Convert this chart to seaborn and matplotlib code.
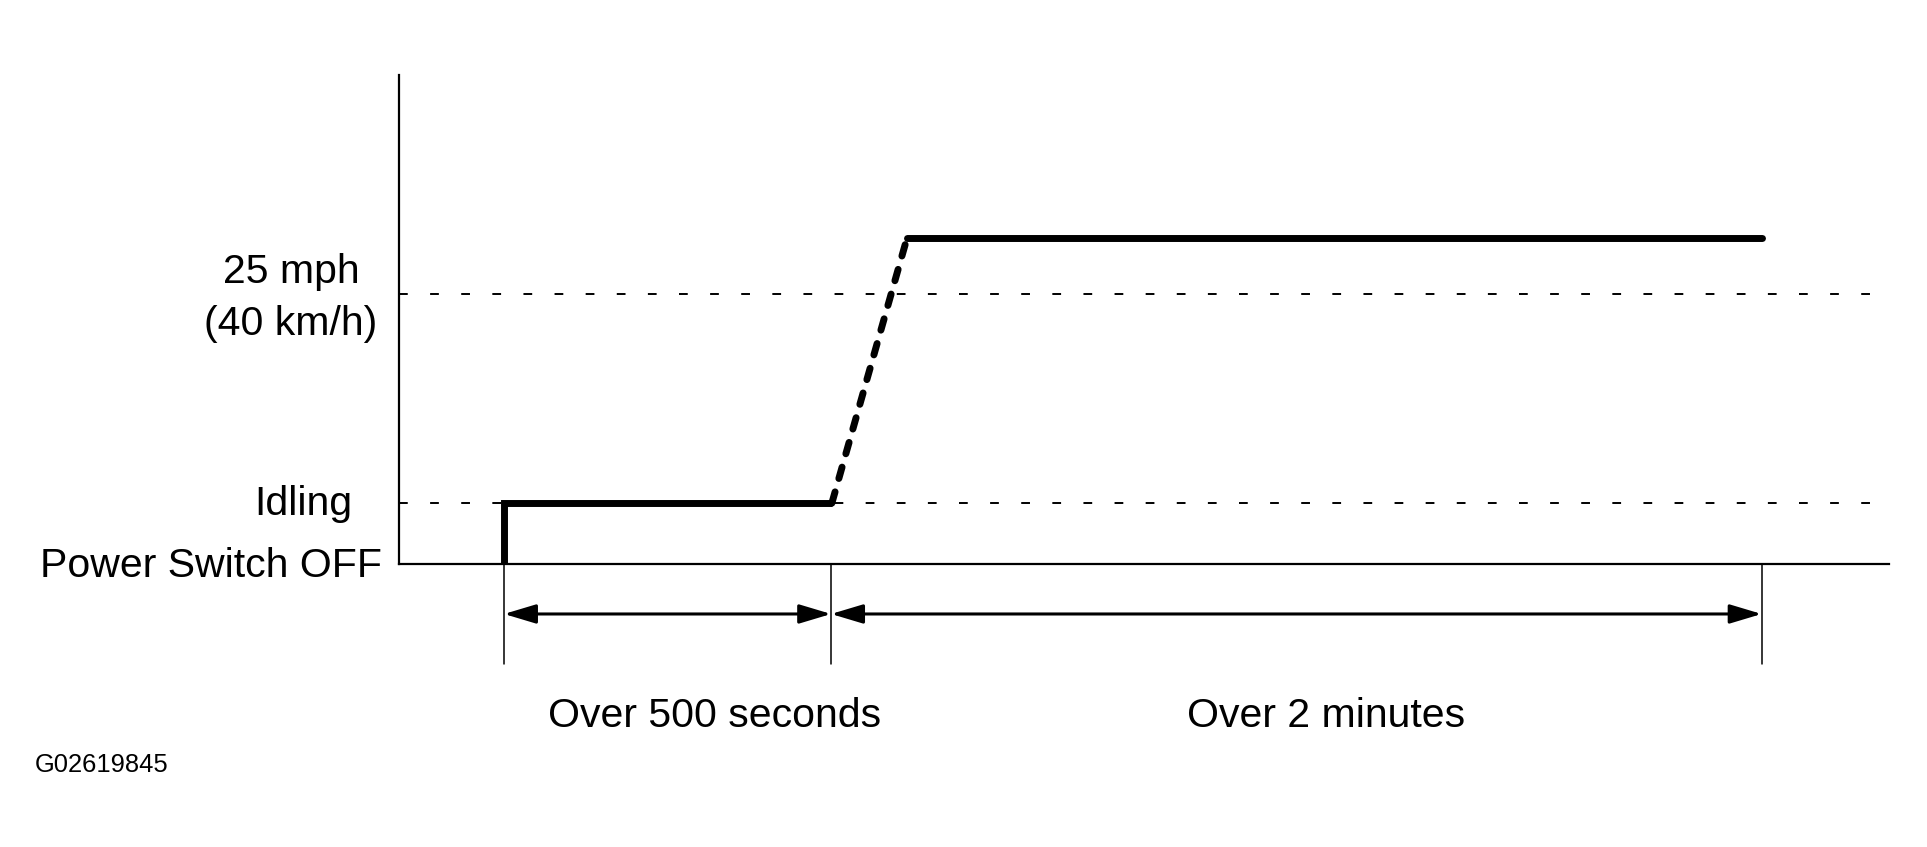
import numpy as np
import pandas as pd
import matplotlib
matplotlib.use("Agg")
import matplotlib.pyplot as plt
import seaborn as sns

# schematic speed profile (x: time units 0-100, y: km/h)
speed_levels = {"off": 0, "idle": 9.0, "target": 40.0, "cruise": 48.3}
step_x = [7.05, 7.05, 29.05]
step_y = [0, 9.0, 9.0]
ramp_x = [29.05, 34.1]
ramp_y = [9.0, 48.3]
cruise_x = [34.1, 91.5]
cruise_y = [48.3, 48.3]
marker_x = [7.05, 29.0, 91.45]
span_labels = ["Over 500 seconds", "Over 2 minutes"]
span_label_x = [21.2, 62.2]

sns.set_style("white")
plt.rcParams['font.family'] = ['Liberation Sans', 'DejaVu Sans']
plt.rcParams['text.color'] = 'black'

fig = plt.figure(figsize=(19.27, 8.47), dpi=100)
ax = fig.add_axes([399 / 1927, 1 - 564 / 847, 1490 / 1927, 489 / 847])

# reference dashed levels
for lvl in [speed_levels["idle"], speed_levels["target"]]:
    ax.axhline(lvl, color='black', lw=1.4, linestyle=(0, (4.5, 11.5)))

step_df = pd.DataFrame({'t': step_x, 'v': step_y})
cruise_df = pd.DataFrame({'t': cruise_x, 'v': cruise_y})
ramp_df = pd.DataFrame({'t': ramp_x, 'v': ramp_y})

sns.lineplot(data=step_df, x='t', y='v', estimator=None, sort=False, ax=ax,
             color='black', lw=5, solid_joinstyle='miter', solid_capstyle='butt')
sns.lineplot(data=cruise_df, x='t', y='v', estimator=None, sort=False, ax=ax,
             color='black', lw=5, solid_capstyle='round')
ax.plot(ramp_df['t'], ramp_df['v'], color='black', lw=5,
        linestyle=(0, (1.7, 2.0)), dash_capstyle='round')

# dimension markers below the axis
for mx in marker_x:
    ax.plot([mx, mx], [0, -14.8], color='black', lw=1.1, clip_on=False)

for x0, x1 in [(marker_x[0], marker_x[1]), (marker_x[1], marker_x[2])]:
    ax.annotate('', xy=(x1, -7.4), xytext=(x0, -7.4), annotation_clip=False,
                arrowprops=dict(arrowstyle='<|-|>,head_length=1.5,head_width=0.45',
                                mutation_scale=13, color='black', lw=2.2,
                                shrinkA=0, shrinkB=0))

for lab, lx in zip(span_labels, span_label_x):
    ax.text(lx, -24.1, lab, ha='center', va='baseline', fontsize=29.5, clip_on=False)

# level labels
ax.text(-7.25, 41.6, '25 mph', ha='center', va='baseline', fontsize=29.5, clip_on=False)
ax.text(-7.25, 33.9, '(40 km/h)', ha='center', va='baseline', fontsize=29.5, clip_on=False)
ax.text(-3.15, 7.25, 'Idling', ha='right', va='baseline', fontsize=29.5, clip_on=False)
ax.text(-1.14, -1.92, 'Power Switch OFF', ha='right', va='baseline', fontsize=29.5, clip_on=False)

fig.text(35 / 1927, 1 - 772 / 847, 'G02619845', fontsize=18.4, va='baseline')

ax.set_xlim(0, 100)
ax.set_ylim(0, 72.4)
ax.set_xticks([])
ax.set_yticks([])
ax.set_xlabel('')
ax.set_ylabel('')
sns.despine(ax=ax)
for s in ['left', 'bottom']:
    ax.spines[s].set_color('black')
    ax.spines[s].set_linewidth(1.6)

fig.savefig('out.png', dpi=100, facecolor='white')
